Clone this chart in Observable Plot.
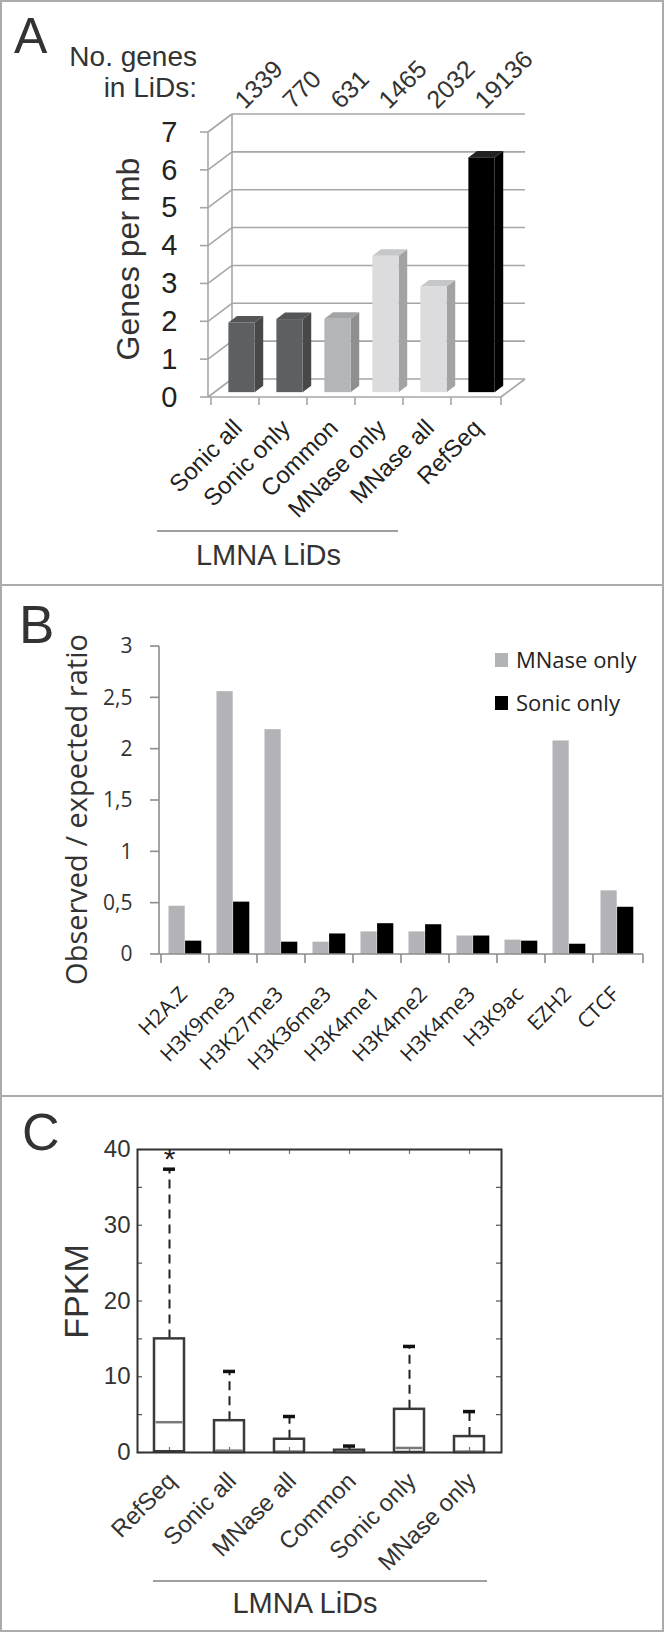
<!DOCTYPE html>
<html><head><meta charset="utf-8">
<script src="https://cdn.jsdelivr.net/npm/d3@7"></script>
<script src="https://cdn.jsdelivr.net/npm/@observablehq/plot@0.6"></script>
<style>
html,body{margin:0;padding:0;background:#fff;}
#fig{position:relative;width:664px;height:1632px;background:#fff;overflow:hidden;font-family:"Liberation Sans",Arial,sans-serif;color:#333;}
.abs{position:absolute;white-space:nowrap;line-height:1;}
.panel{position:absolute;left:0;}
.panel svg{display:block;overflow:visible;}
</style></head><body><div id="fig"></div>
<script>
// ---------- DATA ----------
// Panel A
const catsA = ["Sonic all", "Sonic only", "Common", "MNase only", "MNase all", "RefSeq"];
const densityA = [1.84, 1.93, 1.94, 3.6, 2.79, 6.2];
const countsA = [1339, 770, 631, 1465, 2032, 19136];
const toneA = ["dark", "dark", "mid", "light", "light", "black"];
const yTicksA = [0, 1, 2, 3, 4, 5, 6, 7];
// Panel B
const marksB = ["H2A.Z", "H3K9me3", "H3K27me3", "H3K36me3", "H3K4me1", "H3K4me2", "H3K4me3", "H3K9ac", "EZH2", "CTCF"];
const mnaseOnlyB = [0.47, 2.56, 2.19, 0.12, 0.22, 0.22, 0.18, 0.14, 2.08, 0.62];
const sonicOnlyB = [0.13, 0.51, 0.12, 0.20, 0.30, 0.29, 0.18, 0.13, 0.10, 0.46];
const seriesB = ["MNase only", "Sonic only"];
const yTicksB = [0, 0.5, 1, 1.5, 2, 2.5, 3];
// Panel C
const catsC = ["RefSeq", "Sonic all", "MNase all", "Common", "Sonic only", "MNase only"];
const q1C = [0.1, 0, 0, 0, 0, 0];
const medianC = [4.0, 0.25, 0.1, 0.1, 0.6, 0.1];
const q3C = [15.0, 4.2, 1.75, 0.3, 5.7, 2.1];
const whiskerC = [37.4, 10.7, 4.75, 0.85, 14.0, 5.4];
const yTicksC = [0, 10, 20, 30, 40];
const minorTicksC = [0, 5, 10, 15, 20, 25, 30, 35, 40];

// ---------- STYLES ----------
const SHADES = {
  dark: {front: "#5e5f61", side: "#47484a", top: "#545557"},
  mid: {front: "#b4b5b7", side: "#8e8f91", top: "#a3a4a6"},
  light: {front: "#dcdcde", side: "#a2a3a5", top: "#c6c7c9"},
  black: {front: "#000000", side: "#000000", top: "#222222"}
};
const GRID = "#a6a6a6";
const DEPTH = [24, -18];
const BAR_NEAR = 0.27, BAR_FAR = 0.63, BAR_INSET = 10.9;
const GRAY_B = "#b1b3b6";

const fig = document.getElementById("fig");
function addPanel(node, top) {
  const d = document.createElement("div");
  d.className = "panel"; d.style.top = top + "px";
  d.appendChild(node); fig.appendChild(d);
}
function addText(txt, css) {
  const d = document.createElement("div");
  d.className = "abs"; d.textContent = txt;
  Object.assign(d.style, css); fig.appendChild(d); return d;
}
function addBox(css) {
  const d = document.createElement("div");
  d.style.position = "absolute"; Object.assign(d.style, css); fig.appendChild(d); return d;
}

// ---------- PANEL A ----------
const dA = catsA.map((c, i) => ({cat: c, v: densityA[i], n: countsA[i], tone: toneA[i]}));
const near = [DEPTH[0] * BAR_NEAR, DEPTH[1] * BAR_NEAR];
const deep = [DEPTH[0] * (BAR_FAR - BAR_NEAR), DEPTH[1] * (BAR_FAR - BAR_NEAR)];

function frame3dA(index, scales, values, dims) {
  const {x, y} = scales;
  const x0 = dims.marginLeft, x1 = dims.width - dims.marginRight;
  const [ddx, ddy] = DEPTH;
  const g = d3.create("svg:g").attr("fill", "none").attr("stroke", GRID).attr("stroke-width", 1.6);
  const line = (a, b, c, d) => g.append("line").attr("x1", a).attr("y1", b).attr("x2", c).attr("y2", d);
  const y0 = y(0), yTop = y(d3.max(yTicksA));
  for (const t of yTicksA) {
    line(x0 + ddx, y(t) + ddy, x1 + ddx, y(t) + ddy);
    line(x0, y(t), x0 + ddx, y(t) + ddy);
    line(x0 - 8, y(t), x0, y(t));
  }
  line(x0, y0, x0, yTop);
  line(x0 + ddx, y0 + ddy, x0 + ddx, yTop + ddy);
  line(x0, y0, x1, y0);
  line(x1, y0, x1 + ddx, y0 + ddy);
  for (const c of catsA) line(x(c), y0, x(c), y0 + 8);
  line(x1, y0, x1, y0 + 8);
  return g.node();
}
function barsDepthA(index, scales) {
  const {x, y} = scales;
  const bw = x.bandwidth();
  const g = d3.create("svg:g");
  dA.forEach((d) => {
    const xs = x(d.cat) + BAR_INSET + near[0], xe = x(d.cat) + bw - BAR_INSET + near[0];
    const yb = y(0) + near[1], yt = y(d.v) + near[1];
    const s = SHADES[d.tone];
    g.append("path").attr("fill", s.side)
      .attr("d", `M${xe},${yb}L${xe},${yt}L${xe + deep[0]},${yt + deep[1]}L${xe + deep[0]},${yb + deep[1]}Z`);
    g.append("path").attr("fill", s.top)
      .attr("d", `M${xs},${yt}L${xe},${yt}L${xe + deep[0]},${yt + deep[1]}L${xs + deep[0]},${yt + deep[1]}Z`);
  });
  return g.node();
}

const plotA = Plot.plot({
  width: 664, height: 585,
  marginTop: 132, marginBottom: 188, marginLeft: 208, marginRight: 163,
  style: {fontFamily: "'Liberation Sans', Arial, sans-serif", fontSize: "29px", color: "#222", background: "transparent"},
  color: {type: "identity"},
  x: {domain: catsA, padding: 0, axis: null},
  y: {domain: [0, 7], ticks: yTicksA, tickSize: 0, tickPadding: 31, label: null, tickFormat: d => String(d)},
  marks: [
    frame3dA,
    barsDepthA,
    Plot.barY(dA, {x: "cat", y: "v", fill: d => SHADES[d.tone].front, insetLeft: BAR_INSET, insetRight: BAR_INSET, dx: near[0], dy: near[1]}),
    Plot.text(dA, {x: "cat", text: d => String(d.n), frameAnchor: "top", rotate: -45, textAnchor: "start", dx: -3, dy: -35, fontSize: 25, fill: "#333"}),
    Plot.text(dA, {x: "cat", text: "cat", frameAnchor: "bottom", rotate: -45, textAnchor: "end", dx: 8, dy: 32, fontSize: 24, fill: "#222"}),
    Plot.text(["Genes per mb"], {frameAnchor: "left", rotate: -90, textAnchor: "middle", dx: -80, dy: -6, fontSize: 32, fill: "#333"})
  ]
});
addPanel(plotA, 0);

// ---------- PANEL B ----------
const dB = marksB.map((m, i) => ({mark: m, mnase: mnaseOnlyB[i], sonic: sonicOnlyB[i]}));
function axesB(index, scales, values, dims) {
  const {x, y} = scales;
  const x0 = dims.marginLeft, x1 = dims.width - dims.marginRight;
  const g = d3.create("svg:g").attr("fill", "none").attr("stroke", "#8c8c8c").attr("stroke-width", 1.6);
  const line = (a, b, c, d) => g.append("line").attr("x1", a).attr("y1", b).attr("x2", c).attr("y2", d);
  const y0 = y(0);
  line(x0, y0, x0, y(d3.max(yTicksB)));
  line(x0, y0, x1, y0);
  for (const t of yTicksB) line(x0 - 9, y(t), x0, y(t));
  for (const c of marksB) line(x(c), y0, x(c), y0 + 9);
  line(x1, y0, x1, y0 + 9);
  return g.node();
}
const plotB = Plot.plot({
  width: 664, height: 511,
  marginTop: 61, marginBottom: 142, marginLeft: 159, marginRight: 21,
  style: {fontFamily: "'Open Sans', sans-serif", fontSize: "21px", color: "#333", background: "transparent"},
  x: {domain: marksB, padding: 0, axis: null},
  y: {domain: [0, 3], ticks: yTicksB, tickSize: 0, tickPadding: 27, label: null, tickFormat: d => String(d).replace(".", ",")},
  marks: [
    Plot.barY(dB, {x: "mark", y: "mnase", fill: GRAY_B, insetLeft: 7.5, insetRight: 24.3}),
    Plot.barY(dB, {x: "mark", y: "sonic", fill: "#000", insetLeft: 24.1, insetRight: 7.7}),
    axesB,
    Plot.text(dB, {x: "mark", text: "mark", frameAnchor: "bottom", rotate: -45, textAnchor: "end", dx: 3, dy: 41, fontSize: 21, fill: "#222"}),
    Plot.text(["Observed / expected ratio"], {frameAnchor: "left", rotate: -90, textAnchor: "middle", dx: -82, dy: 9, fontSize: 29, fill: "#333"})
  ]
});
addPanel(plotB, 585);

// ---------- PANEL C ----------
const dC = catsC.map((c, i) => ({cat: c, q1: q1C[i], med: medianC[i], q3: q3C[i], hi: whiskerC[i]}));
const frameWC = 664 - 137 - 163, frameHC = 536 - 53 - 180;
const plotC = Plot.plot({
  width: 664, height: 536,
  marginTop: 53, marginBottom: 180, marginLeft: 137, marginRight: 163,
  style: {fontFamily: "'Liberation Sans', Arial, sans-serif", fontSize: "24px", color: "#333", background: "transparent"},
  x: {domain: catsC, padding: 0, axis: null},
  y: {domain: [0, 40], ticks: yTicksC, tickSize: 0, tickPadding: 7, label: null},
  marks: [
    Plot.ruleY(minorTicksC, {stroke: "#555", strokeWidth: 1.2, insetRight: frameWC - 5}),
    Plot.ruleY(minorTicksC, {stroke: "#555", strokeWidth: 1.2, insetLeft: frameWC - 5}),
    Plot.ruleX(catsC, {stroke: "#777", strokeWidth: 1.2, insetBottom: frameHC - 5}),
    Plot.ruleX(catsC, {stroke: "#777", strokeWidth: 1.2, insetTop: frameHC - 5}),
    Plot.ruleX(dC, {x: "cat", y1: "q3", y2: "hi", stroke: "#222", strokeWidth: 2, strokeDasharray: "9,6"}),
    Plot.tickY(dC, {x: "cat", y: "hi", stroke: "#111", strokeWidth: 3.5, insetLeft: 24, insetRight: 24}),
    Plot.barY(dC, {x: "cat", y1: "q1", y2: "q3", fill: "none", stroke: "#3a3a3a", strokeWidth: 2.5, insetLeft: 15, insetRight: 15}),
    Plot.tickY(dC, {x: "cat", y: "med", stroke: "#7a7a7a", strokeWidth: 2.5, insetLeft: 16.5, insetRight: 16.5}),
    Plot.frame({stroke: "#333", strokeWidth: 2}),
    Plot.text(dC.slice(0, 1), {x: "cat", y: "hi", text: () => "*", dy: -10, fontSize: 30, fill: "#222"}),
    Plot.text(dC, {x: "cat", text: "cat", frameAnchor: "bottom", rotate: -45, textAnchor: "end", dx: 8, dy: 30, fontSize: 24, fill: "#333"}),
    Plot.text(["FPKM"], {frameAnchor: "left", rotate: -90, textAnchor: "middle", dx: -60, dy: -9.5, fontSize: 34, fill: "#333"})
  ]
});
addPanel(plotC, 1096);

// ---------- ANNOTATIONS ----------
addText("A", {left: "14px", top: "10.7px", fontSize: "50px", color: "#333"});
addText("B", {left: "19px", top: "598px", fontSize: "53px", color: "#333"});
addText("C", {left: "22px", top: "1106px", fontSize: "52px", color: "#333"});
addText("No. genes", {right: "467px", top: "43.3px", fontSize: "28px", color: "#333", textAlign: "right"});
addText("in LiDs:", {right: "467px", top: "74.3px", fontSize: "28px", color: "#333", textAlign: "right"});
addBox({left: "157px", top: "530px", width: "241px", height: "1.5px", background: "#a0a0a0"});
addText("LMNA LiDs", {left: "268.5px", top: "540.5px", fontSize: "29px", color: "#333", transform: "translateX(-50%)"});
addBox({left: "152.5px", top: "1580px", width: "334.5px", height: "1.5px", background: "#a0a0a0"});
addText("LMNA LiDs", {left: "305px", top: "1588.5px", fontSize: "29px", color: "#333", transform: "translateX(-50%)"});
// legend B
const legendColors = [GRAY_B, "#000"];
seriesB.forEach((s, i) => {
  const top = 653 + i * 43;
  addBox({left: "494.6px", top: top + "px", width: "13.5px", height: "13.5px", background: legendColors[i]});
  addText(s, {left: "516px", top: (top + 14 - 19.5) + "px", fontSize: "22px", color: "#222", fontFamily: "'Open Sans', sans-serif"});
});
// borders
addBox({left: "0", top: "0", width: "664px", height: "1632px", boxSizing: "border-box", border: "2px solid #ababab"});
addBox({left: "0", top: "584px", width: "664px", height: "2px", background: "#ababab"});
addBox({left: "0", top: "1095px", width: "664px", height: "2px", background: "#ababab"});
</script></body></html>
